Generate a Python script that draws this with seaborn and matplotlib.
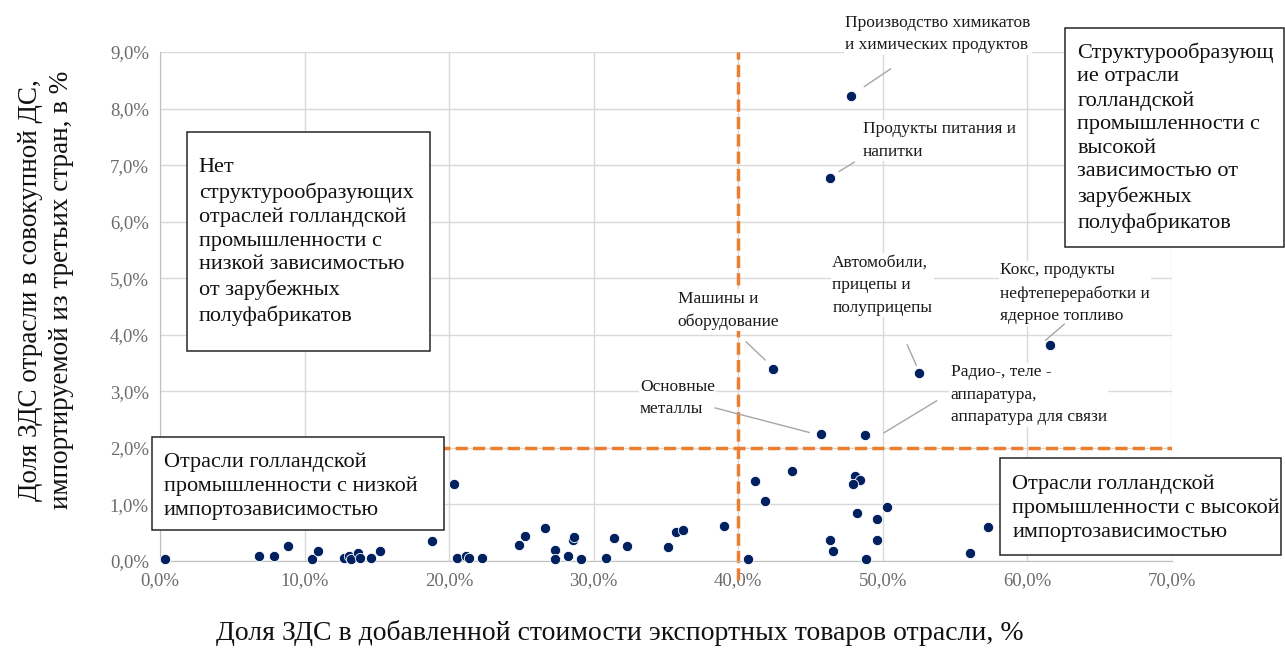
import matplotlib
matplotlib.use("Agg")
import matplotlib.pyplot as plt
import seaborn as sns
import pandas as pd
from matplotlib.patches import Rectangle
from matplotlib.ticker import FuncFormatter, MultipleLocator

# share of foreign value added in exports (x, %) and in total VA imported from third countries (y, %)
x_vals = [0.37, 6.83, 7.89, 8.82, 10.49, 10.90, 12.72, 13.07, 13.23, 13.69, 13.81, 14.62,
          15.20, 18.80, 20.35, 20.51, 21.20, 21.34, 22.24, 24.85, 25.25, 26.65, 27.33, 27.30,
          28.25, 28.55, 28.64, 29.15, 30.88, 31.41, 32.29, 35.16, 35.66, 36.15, 39.04, 40.70,
          41.19, 41.85, 43.72, 48.07, 48.41, 47.95, 48.18, 49.57, 50.31, 57.24, 46.33, 49.57,
          46.56, 56.04, 48.83]
y_vals = [0.03, 0.08, 0.08, 0.27, 0.03, 0.18, 0.06, 0.08, 0.03, 0.14, 0.05, 0.05,
          0.18, 0.36, 1.36, 0.05, 0.08, 0.05, 0.05, 0.29, 0.44, 0.59, 0.20, 0.03,
          0.08, 0.37, 0.43, 0.03, 0.05, 0.40, 0.27, 0.25, 0.51, 0.55, 0.62, 0.03,
          1.41, 1.06, 1.60, 1.51, 1.44, 1.37, 0.85, 0.75, 0.95, 0.61, 0.37, 0.37,
          0.18, 0.15, 0.03]

# labelled industries
lab_names = ["Производство химикатов\nи химических продуктов",
             "Продукты питания и\nнапитки",
             "Кокс, продукты\nнефтепереработки и\nядерное топливо",
             "Автомобили,\nприцепы и\nполуприцепы",
             "Машины и\nоборудование",
             "Основные\nметаллы",
             "Радио-, теле -\nаппаратура,\nаппаратура для связи"]
lab_x = [47.79, 46.33, 61.57, 52.50, 42.38, 45.71, 48.76]
lab_y = [8.23, 6.78, 3.82, 3.32, 3.39, 2.24, 2.22]

x_threshold = 40.0
y_threshold = 2.0

# label text position (top-left) and leader line start/end, data units
lab_text_pos = [(47.4, 9.66), (48.6, 7.78), (58.1, 5.28), (46.5, 5.42),
                (35.8, 4.78), (33.2, 3.22), (54.7, 3.48)]
lab_lines = [((50.7, 8.73), (48.55, 8.36)),
             ((48.2, 7.08), (46.8, 6.86)),
             ((62.7, 4.22), (61.1, 3.87)),
             ((51.6, 3.87), (52.4, 3.41)),
             ((40.4, 3.91), (42.0, 3.52)),
             ((38.2, 2.72), (45.1, 2.26)),
             ((53.9, 2.86), (49.9, 2.24))]

# quadrant notes: text, box (x0, y0, x1, y1), text anchor (left x, centre y)
quadrant_texts = [
    ("Нет\nструктурообразующих\nотраслей голландской\nпромышленности с\nнизкой зависимостью\nот зарубежных\nполуфабрикатов",
     (1.84, 3.71, 18.68, 7.58), (2.68, 5.64)),
    ("Структурообразующ\nие отрасли\nголландской\nпромышленности с\nвысокой\nзависимостью от\nзарубежных\nполуфабрикатов",
     (62.62, 5.55, 77.73, 9.42), (63.44, 7.49)),
    ("Отрасли голландской\nпромышленности с низкой\nимпортозависимостью",
     (-0.58, 0.55, 19.65, 2.19), (0.25, 1.32)),
    ("Отрасли голландской\nпромышленности с высокой\nимпортозависимостью",
     (58.12, 0.106, 77.52, 1.82), (58.95, 0.94)),
]

df = pd.DataFrame({"x": x_vals + lab_x, "y": y_vals + lab_y})

sns.set_style("white")
plt.rcParams["font.family"] = ["Liberation Serif", "DejaVu Serif"]

fig = plt.figure(figsize=(12.85, 6.5), dpi=100)
ax = fig.add_axes([160 / 1285, 89 / 650, 1012 / 1285, 509 / 650])

sns.scatterplot(data=df, x="x", y="y", ax=ax, color="#002060", s=55,
                edgecolor="white", linewidth=0.6, zorder=5, clip_on=False)
ax.set_xlabel("")
ax.set_ylabel("")

ax.set_xlim(0, 70)
ax.set_ylim(0, 9)
ax.xaxis.set_major_locator(MultipleLocator(10))
ax.yaxis.set_major_locator(MultipleLocator(1))
fmt = FuncFormatter(lambda v, p: f"{v:.1f}%".replace(".", ","))
ax.xaxis.set_major_formatter(fmt)
ax.yaxis.set_major_formatter(fmt)
ax.grid(True, color="#d9d9d9", lw=1)
ax.set_axisbelow(True)
for s in ["top", "right"]:
    ax.spines[s].set_visible(False)
for s in ["left", "bottom"]:
    ax.spines[s].set_color("#bfbfbf")
ax.tick_params(axis="both", length=0, labelsize=13.5, labelcolor="#6b6b6b", pad=8)

# threshold lines
ax.plot([x_threshold, x_threshold], [-0.34, 9.0], color="#ed7d31", lw=2.5,
        ls=(0, (3.5, 1.5)), clip_on=False, zorder=2)
ax.plot([0, 70], [y_threshold, y_threshold], color="#ed7d31", lw=2.5,
        ls=(0, (3.5, 1.5)), zorder=2)

for name, (tx, ty), (p0, p1) in zip(lab_names, lab_text_pos, lab_lines):
    ax.text(tx, ty, name, ha="left", va="top", fontsize=12.5, linespacing=1.55,
            color="#1a1a1a", clip_on=False, zorder=4,
            bbox=dict(facecolor="white", edgecolor="none", pad=1))
    ax.annotate("", xy=p1, xytext=p0,
                arrowprops=dict(arrowstyle="-", color="#a6a6a6", lw=1), zorder=4)

for txt, (x0, y0, x1, y1), (tx, ty) in quadrant_texts:
    ax.add_patch(Rectangle((x0, y0), x1 - x0, y1 - y0, facecolor="white",
                           edgecolor="#262626", lw=1.1, clip_on=False, zorder=6))
    ax.text(tx, ty, txt, ha="left", va="center", fontsize=16, linespacing=1.33,
            color="#111111", clip_on=False, zorder=7)

fig.text(620 / 1285, 1 - 633 / 650,
         "Доля ЗДС в добавленной стоимости экспортных товаров отрасли, %",
         ha="center", va="center", fontsize=20, color="#111111")
fig.text(46 / 1285, 1 - 290 / 650,
         "Доля ЗДС отрасли в совокупной ДС,\nимпортируемой из третьих стран, в %",
         ha="center", va="center", rotation=90, fontsize=19.5, color="#111111",
         linespacing=1.32)

fig.savefig("out.png", dpi=100)
